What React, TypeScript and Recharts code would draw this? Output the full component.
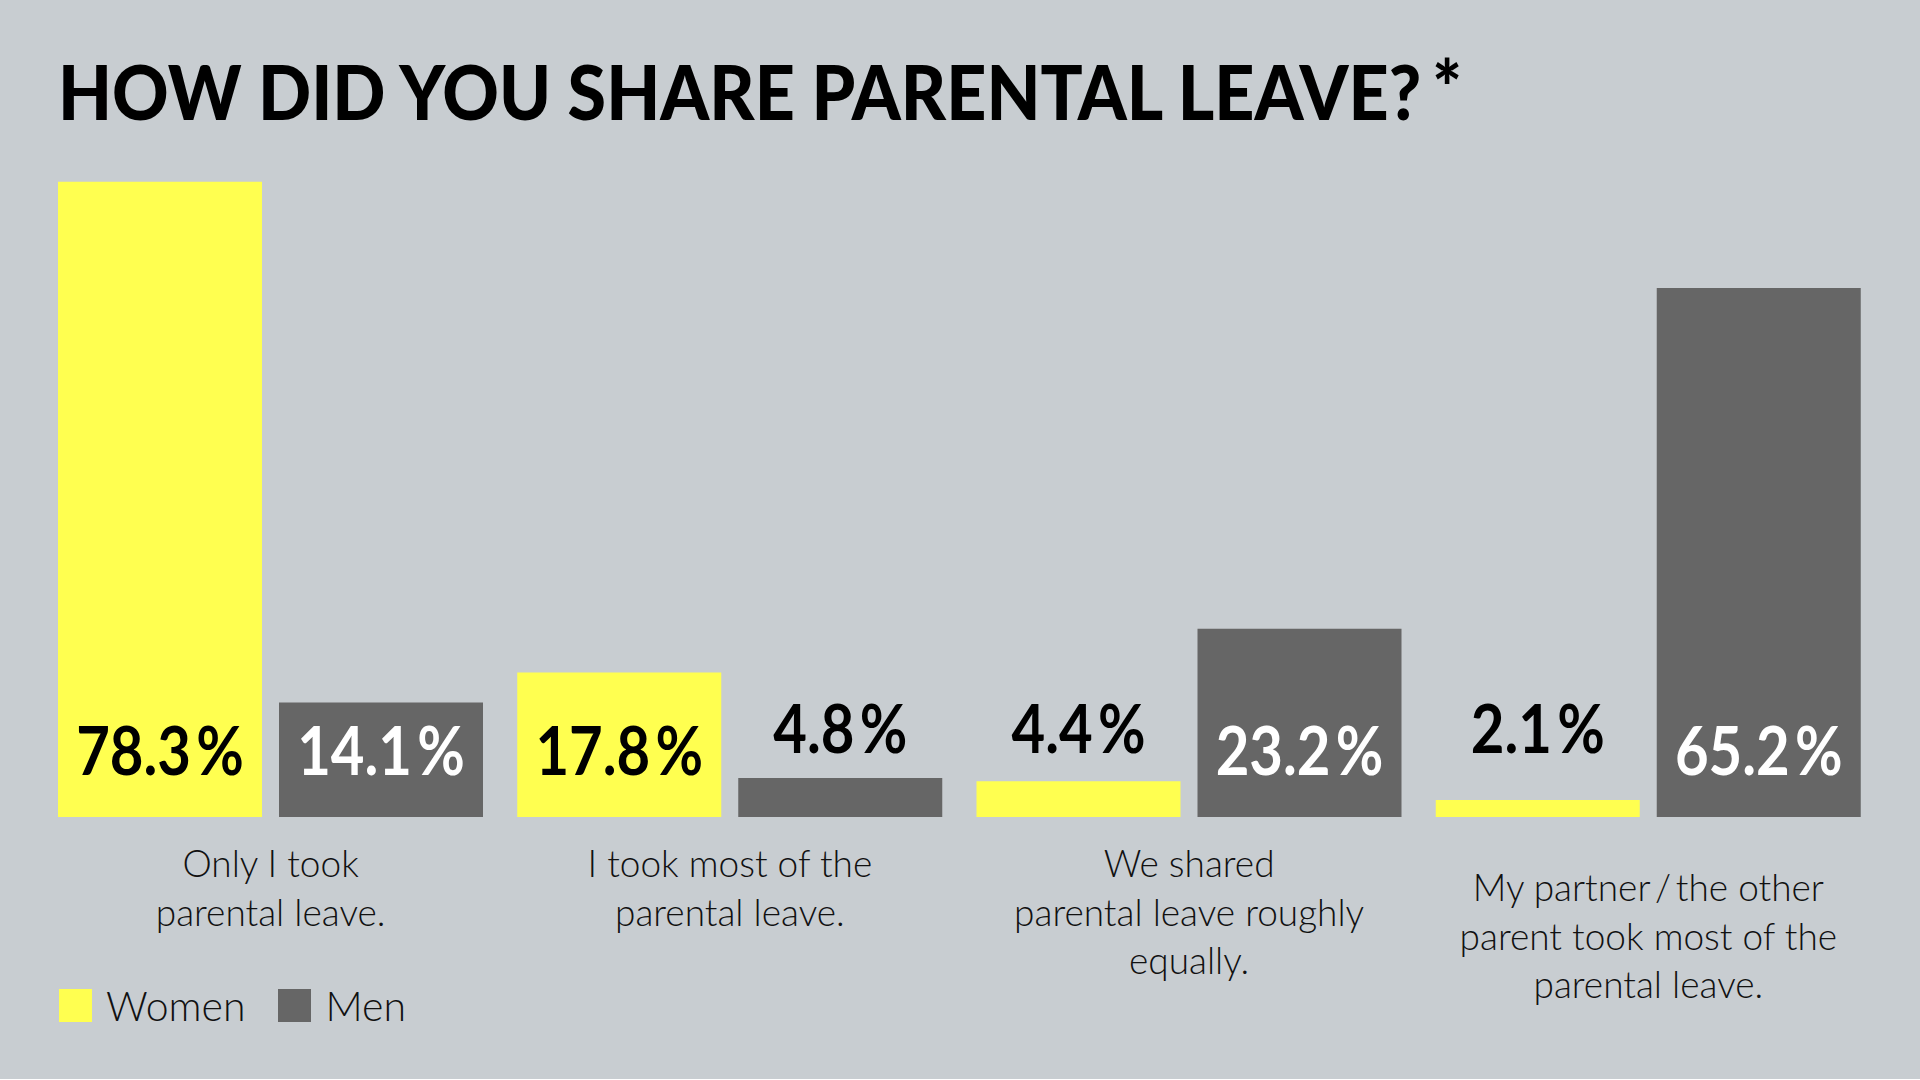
import { Bar, BarChart, LabelList, XAxis, YAxis } from "recharts"

const categories = [
  ["Only I took", "parental leave."],
  ["I took most of the", "parental leave."],
  ["We shared", "parental leave roughly", "equally."],
  ["My partner\u2009/\u2009the other", "parent took most of the", "parental leave."],
]
const women = [78.3, 17.8, 4.4, 2.1]
const men = [14.1, 4.8, 23.2, 65.2]

const YELLOW = "#ffff50"
const GRAY = "#666666"
const BG = "#c8cdd1"
const LABEL_FONT = "Lato, 'Noto Sans', sans-serif"

const data = categories.map((lines, i) => ({
  key: String(i),
  Women: women[i],
  Men: men[i],
}))

// bar values: inside the bar near the bottom when there is room, above it otherwise
const valueLabel = (textColor: string) => (props: any) => {
  const { x, y, width, height, value } = props
  const bottom = y + height
  const inside = height > 90
  const ty = inside ? bottom - 42 : bottom - 64
  return (
    <text
      transform={`translate(${x + width / 2}, ${ty}) scale(0.88, 1)`}
      textAnchor="middle"
      fontFamily={LABEL_FONT}
      fontWeight={700}
      fontSize={66}
      fill={inside ? textColor : "#000"}
    >
      {value.toFixed(1)}
      <tspan dx={6}>%</tspan>
    </text>
  )
}

const CategoryTick = (props: any) => {
  const { x, payload } = props
  const idx = Number(payload.value)
  const lines = categories[idx]
  // the last label sits half a line lower in the original
  const top = 877 + (idx === 3 ? 24 : 0)
  return (
    <g>
      {lines.map((line, i) => (
        <text
          key={i}
          x={x}
          y={top + i * 48.5}
          textAnchor="middle"
          fontFamily={LABEL_FONT}
          fontWeight={300}
          fontSize={37}
          fill="#111"
        >
          {line}
        </text>
      ))}
    </g>
  )
}

const legendItems = [
  { name: "Women", color: YELLOW },
  { name: "Men", color: GRAY },
]

export default function App() {
  return (
    <div style={{ position: "fixed", left: 0, top: 0, width: 1920, height: 1079, background: BG, overflow: "hidden" }}>
      <div
        style={{
          position: "absolute",
          left: 58,
          top: 46,
          fontFamily: "Lato, 'Noto Sans', sans-serif",
          fontWeight: 900,
          fontSize: 76,
          lineHeight: "90px",
          color: "#000",
          whiteSpace: "nowrap",
          transform: "scaleX(0.92)",
          transformOrigin: "left top",
        }}
      >
        HOW DID YOU SHARE PARENTAL LEAVE?<span style={{ marginLeft: 12, position: "relative", top: -4 }}>*</span>
      </div>
      <div style={{ position: "absolute", left: 0, top: 0 }}>
        <BarChart
          width={1920}
          height={1080}
          data={data}
          margin={{ top: 168, right: 42, bottom: 233, left: 41 }}
          barCategoryGap={17}
          barGap={17}
        >
          <XAxis dataKey="key" axisLine={false} tickLine={false} tick={<CategoryTick />} interval={0} height={30} />
          <YAxis hide domain={[0, 80]} />
          <Bar dataKey="Women" fill={YELLOW} isAnimationActive={false}>
            <LabelList dataKey="Women" content={valueLabel("#000")} />
          </Bar>
          <Bar dataKey="Men" fill={GRAY} isAnimationActive={false}>
            <LabelList dataKey="Men" content={valueLabel("#fff")} />
          </Bar>
        </BarChart>
      </div>
      <div
        style={{
          position: "absolute",
          left: 59,
          top: 989,
          height: 33,
          display: "flex",
          alignItems: "center",
          fontFamily: LABEL_FONT,
          fontWeight: 300,
          fontSize: 41,
          color: "#111",
        }}
      >
        {legendItems.map((item) => (
          <span key={item.name} style={{ display: "flex", alignItems: "center", marginRight: 33 }}>
            <span style={{ width: 33, height: 33, background: item.color, display: "inline-block", marginRight: 14 }} />
            <span>{item.name}</span>
          </span>
        ))}
      </div>
    </div>
  )
}
